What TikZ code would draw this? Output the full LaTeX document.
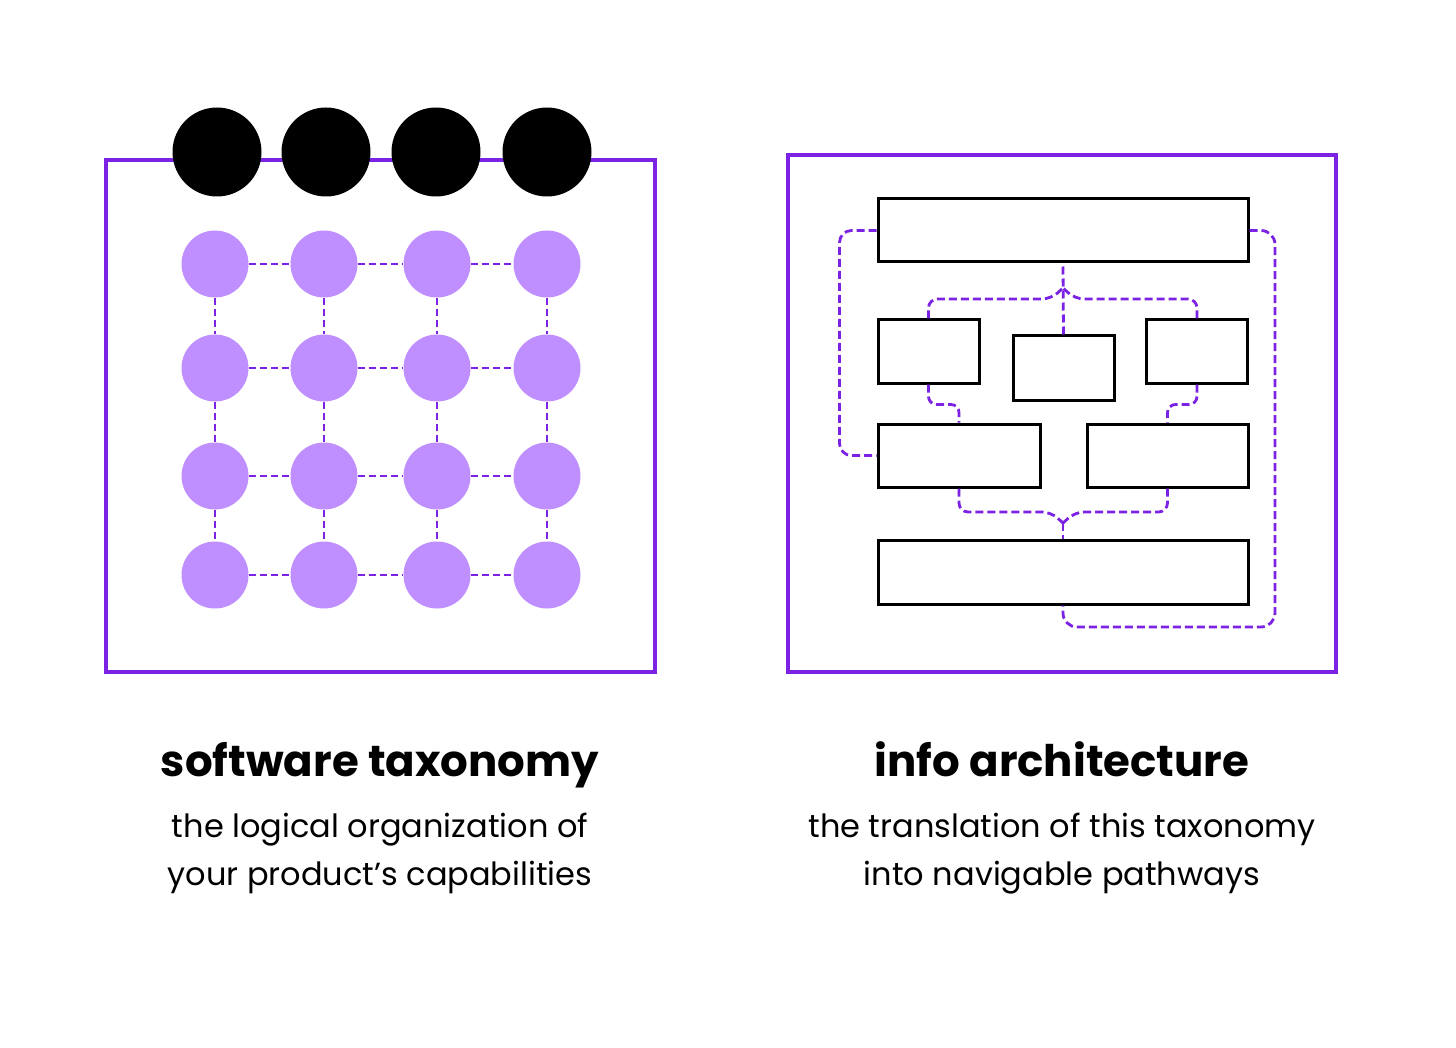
\documentclass[tikz,border=0pt]{standalone}
\usepackage{fontspec}
\setmainfont{Poppins}
\usepackage{tikz}
\usetikzlibrary{calc}
\definecolor{panelpurple}{RGB}{124,34,228}
\definecolor{dotpurple}{RGB}{191,143,255}
\tikzset{
  panel/.style={draw=panelpurple,line width=3.6pt},
  headdot/.style={circle,fill=black,minimum size=89pt,inner sep=0pt},
  griddot/.style={circle,fill=dotpurple,minimum size=67pt,inner sep=0pt},
  gridlink/.style={draw=panelpurple,line width=2.8pt,dash pattern=on 7pt off 4pt},
  navbox/.style={draw=black,line width=3pt,fill=white,inner sep=0pt},
  navlink/.style={draw=panelpurple,line width=2.8pt,dash pattern=on 8pt off 4pt,rounded corners=12pt},
  paneltitle/.style={font=\fontsize{43.5}{50}\selectfont\bfseries,inner sep=0pt},
  panelnote/.style={font=\fontsize{32}{48}\selectfont,align=center,inner sep=0pt}
}
\begin{document}
\begin{tikzpicture}[x=1pt,y=-1pt]
  \fill[white] (0,0) rectangle (1456,1048);
  \useasboundingbox (0,0) rectangle (1456,1048);
  % software taxonomy
  \draw[panel] (106,160) rectangle (655,672);
  \foreach \i/\x in {1/217,2/326,3/436,4/547}
    \node[headdot] (h\i) at (\x,152) {};
  \foreach \c/\x in {1/215,2/324,3/437,4/547}
    \foreach \r/\y in {1/264,2/368,3/476,4/575}
      \node[griddot] (g-\r-\c) at (\x,\y) {};
  \foreach \r in {1,...,4}
    \foreach \c/\n in {1/2,2/3,3/4} {
      \draw[gridlink] (g-\r-\c) -- (g-\r-\n);
      \draw[gridlink] (g-\c-\r) -- (g-\n-\r);
    }
  \node[paneltitle,anchor=base] (taxtitle) at (380,776) {software taxonomy};
  \node[panelnote,anchor=north] (taxnote) at (380,813) {the logical organization of\\your product’s capabilities};
  % info architecture
  \draw[panel] (788,155) rectangle (1336,672);
  \node[navbox,minimum width=370pt,minimum height=63pt] (top) at (1063,230.5) {};
  \node[navbox,minimum width=101pt,minimum height=63pt] (ml) at (928.5,351.5) {};
  \node[navbox,minimum width=101pt,minimum height=64pt] (mc) at (1063.5,368) {};
  \node[navbox,minimum width=101pt,minimum height=63pt] (mr) at (1197,351.5) {};
  \node[navbox,minimum width=162pt,minimum height=63pt] (ll) at (959,455.5) {};
  \node[navbox,minimum width=161pt,minimum height=63pt] (lr) at (1167.5,455.5) {};
  \node[navbox,minimum width=370pt,minimum height=64pt] (bot) at (1063,572) {};
  \coordinate (upj) at (1063,288);
  \coordinate (dnj) at (1063,523);
  \draw[navlink] (top.west) -- ++(-37,0) |- (ll.west);
  \draw[navlink,rounded corners=14pt] (top.east) -| (1275,627) -| (bot.south);
  \draw[navlink] (mc.north) -- (top.south);
  \draw[navlink,rounded corners=9pt] (ml.north) |- ($(upj)+(-12,11)$) -- (upj);
  \draw[navlink,rounded corners=9pt] (mr.north) |- ($(upj)+(12,11)$) -- (upj);
  \draw[navlink,rounded corners=8pt] (ml.south) -- ++(0,20) -| (ll.north);
  \draw[navlink,rounded corners=8pt] (mr.south) -- ++(0,20) -| (lr.north);
  \draw[navlink,rounded corners=9pt] (ll.south) |- ($(dnj)+(-12,-11)$) -- (dnj);
  \draw[navlink,rounded corners=9pt] (lr.south) |- ($(dnj)+(12,-11)$) -- (dnj);
  \draw[navlink] (dnj) -- (bot.north);
  \node[paneltitle,anchor=base] (iatitle) at (1062,776) {info architecture};
  \node[panelnote,anchor=north] (ianote) at (1062,813) {the translation of this taxonomy\\into navigable pathways};
\end{tikzpicture}
\end{document}
